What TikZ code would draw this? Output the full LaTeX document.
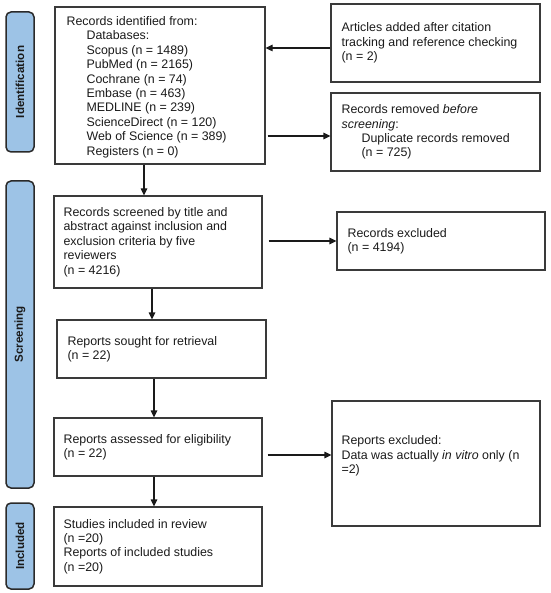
\documentclass[tikz,border=0pt]{standalone}
\usepackage{fontspec}
\setmainfont{Liberation Sans}
\usetikzlibrary{arrows.meta}
\definecolor{boxline}{HTML}{3A3A3A}
\definecolor{barfill}{HTML}{9DC3E6}
\definecolor{barline}{HTML}{2A2A2A}
\definecolor{ink}{HTML}{1A1A1A}
\begin{document}
\begin{tikzpicture}[x=1pt,y=-1pt,
  box/.style={draw=boxline, line width=1.2pt, inner sep=0pt},
  txt/.style={font=\fontsize{12.4}{14.4}\selectfont, text=ink, align=left, inner sep=0pt, anchor=west},
  bar/.style={draw=barline, fill=barfill, line width=1.5pt, rounded corners=5pt, rotate=90,
    font=\bfseries\fontsize{11.6}{13}\selectfont, text=ink, inner sep=0pt, minimum height=28pt},
  arr/.style={draw=ink, line width=1.2pt, -{Triangle[length=7pt,width=6.5pt]}}]
\useasboundingbox (0,0) rectangle (550,593);

% side bars
\node[bar, minimum width=140pt] (bid) at (20,82) {Identification};
\node[bar, minimum width=307pt] (bscr) at (20,334.5) {Screening};
\node[bar, minimum width=86pt] (binc) at (20,546) {Included};

% boxes
\node[box, minimum width=210pt, minimum height=157pt] (id) at (160,85.5) {};
\node[box, minimum width=209pt, minimum height=78pt] (art) at (435.5,43) {};
\node[box, minimum width=209pt, minimum height=78pt] (rem) at (435.5,132) {};
\node[box, minimum width=208pt, minimum height=92pt] (scr) at (158,242) {};
\node[box, minimum width=208pt, minimum height=58pt] (exc) at (441,241) {};
\node[box, minimum width=209pt, minimum height=58pt] (sought) at (161.5,349) {};
\node[box, minimum width=208pt, minimum height=58pt] (ass) at (158,447) {};
\node[box, minimum width=208pt, minimum height=125pt] (rexc) at (436,463.5) {};
\node[box, minimum width=208pt, minimum height=79pt] (inc) at (158,546.5) {};

% texts
\node[txt] (idt) at ([xshift=12pt,yshift=-1.5pt]id.west) {Records identified from:\\
\hspace*{20pt}Databases:\\
\hspace*{20pt}Scopus (n = 1489)\\
\hspace*{20pt}PubMed (n = 2165)\\
\hspace*{20pt}Cochrane (n = 74)\\
\hspace*{20pt}Embase (n = 463)\\
\hspace*{20pt}MEDLINE (n = 239)\\
\hspace*{20pt}ScienceDirect (n = 120)\\
\hspace*{20pt}Web of Science (n = 389)\\
\hspace*{20pt}Registers (n = 0)};
\node[txt] (artt) at ([xshift=11pt]art.west) {Articles added after citation\\tracking and reference checking\\(n = 2)};
\node[txt] (remt) at ([xshift=11pt]rem.west) {Records removed \textit{before}\\\textit{screening}:\\\hspace*{20pt}Duplicate records removed\\\hspace*{20pt}(n = 725)};
\node[txt] (scrt) at ([xshift=10pt]scr.west) {Records screened by title and\\abstract against inclusion and\\exclusion criteria by five\\reviewers\\(n = 4216)};
\node[txt] (exct) at ([xshift=11pt]exc.west) {Records excluded\\(n = 4194)};
\node[txt] (soughtt) at ([xshift=11pt]sought.west) {Reports sought for retrieval\\(n = 22)};
\node[txt] (asst) at ([xshift=10pt]ass.west) {Reports assessed for eligibility\\(n = 22)};
\node[txt] (rexct) at ([xshift=10pt,yshift=7.5pt]rexc.west) {Reports excluded:\\Data was actually \textit{in vitro} only (n\\=2)};
\node[txt] (inct) at ([xshift=10pt]inc.west) {Studies included in review\\(n =20)\\Reports of included studies\\(n =20)};

% helper coordinates
\coordinate (y48) at (0,48);
\coordinate (y136) at (0,136);
\coordinate (y455) at (0,455);
\coordinate (x144) at (144,0);
\coordinate (x152) at (152,0);
\coordinate (x154) at (154,0);

% connectors
\draw[arr] (art.west |- y48) -- (id.east |- y48);
\draw[arr, shorten <=2pt] (id.east |- y136) -- (rem.west |- y136);
\draw[arr] (id.south -| x144) -- (scr.north -| x144);
\draw[arr, shorten <=6pt] (scr.east |- exc.west) -- (exc.west);
\draw[arr] (scr.south -| x152) -- (sought.north -| x152);
\draw[arr] (sought.south -| x154) -- (ass.north -| x154);
\draw[arr] (ass.south -| x154) -- (inc.north -| x154);
\draw[arr, shorten <=5pt] (ass.east |- y455) -- (rexc.west |- y455);
\end{tikzpicture}
\end{document}
